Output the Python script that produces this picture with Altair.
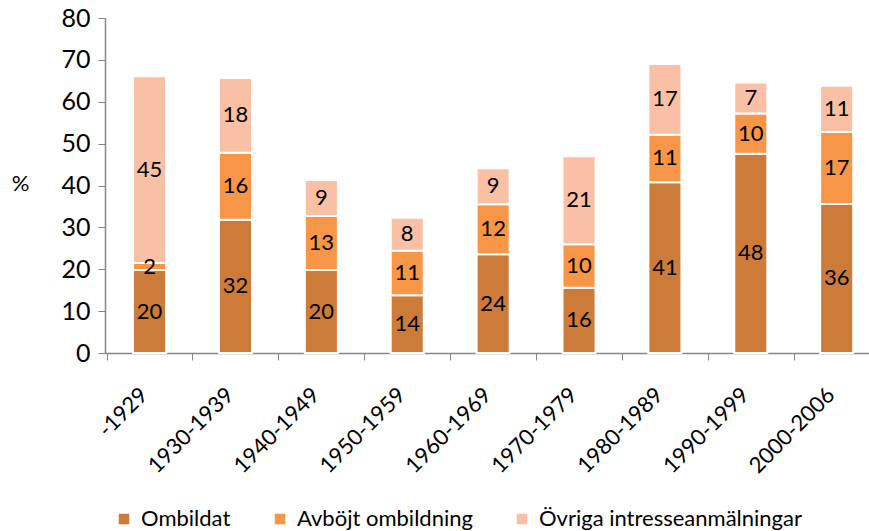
import altair as alt
import pandas as pd

periods = ["-1929", "1930-1939", "1940-1949", "1950-1959", "1960-1969",
           "1970-1979", "1980-1989", "1990-1999", "2000-2006"]
series = ["Ombildat", "Avböjt ombildning", "Övriga intresseanmälningar"]
ombildat = [19.8, 31.8, 19.8, 13.8, 23.6, 15.6, 40.8, 47.6, 35.6]
avbojt = [1.7, 16.0, 12.9, 10.6, 11.9, 10.4, 11.3, 9.6, 17.2]
ovriga = [44.6, 17.9, 8.6, 7.9, 8.6, 21.0, 16.9, 7.4, 11.0]
colors = ["#CD7B38", "#F79646", "#FAC0A5"]

rows = []
for i, p in enumerate(periods):
    for k, (s, vals) in enumerate(zip(series, [ombildat, avbojt, ovriga])):
        rows.append({"period": p, "serie": s, "value": vals[i], "order": k})
df = pd.DataFrame(rows)

FONT = "Lato"

base = alt.Chart(df).transform_stack(
    stack="value", groupby=["period"], as_=["y0", "y1"],
    sort=[alt.SortField("order", order="ascending")]
).transform_calculate(mid="(datum.y0 + datum.y1) / 2")

xenc = alt.X("period:N", sort=periods,
             scale=alt.Scale(paddingInner=0.615, paddingOuter=0.255, align=0.64),
             axis=alt.Axis(title=None, labelAngle=-45, labelAlign="right",
                           labelBaseline="middle", labelPadding=31,
                           tickOffset=-43, labelOffset=37, tickSize=7,
                           labelFontSize=22, labelColor="#000000"))

bars = base.mark_bar(stroke="white", strokeWidth=2).encode(
    x=xenc,
    y=alt.Y("y0:Q", scale=alt.Scale(domain=[0, 80]),
            axis=alt.Axis(values=list(range(0, 81, 10)), title="%", titleAngle=0,
                          titleX=-85, titleY=177, titleAlign="center",
                          titleFontWeight="normal", titleFontSize=22,
                          labelFontSize=25, labelPadding=8, tickSize=7,
                          labelColor="#000000", titleColor="#000000")),
    y2="y1:Q",
    color=alt.Color("serie:N", sort=series,
                    scale=alt.Scale(domain=series, range=colors),
                    legend=alt.Legend(title=None, orient="none", direction="horizontal",
                                      legendX=8, legendY=490, symbolType="square",
                                      symbolSize=110, symbolStrokeWidth=0,
                                      labelFontSize=22, labelColor="#000000",
                                      labelLimit=0, columnPadding=38, labelOffset=6)),
)

labels = base.mark_text(fontSize=22, color="#000000", font=FONT).encode(
    x=alt.X("period:N", sort=periods),
    y=alt.Y("mid:Q"),
    text=alt.Text("value:Q", format=".0f"),
)

chart = alt.layer(bars, labels).properties(
    width=764, height=335,
    autosize=alt.AutoSizeParams(type="none"),
    padding={"left": 105, "top": 18, "right": 0, "bottom": 178},
).configure_view(stroke=None).configure_axis(
    grid=False, domainColor="#868686", tickColor="#868686", domainWidth=1.5,
    labelFont=FONT, titleFont=FONT
).configure_legend(labelFont=FONT)

chart.save("out.html", embed_options={"renderer": "svg", "actions": False})
